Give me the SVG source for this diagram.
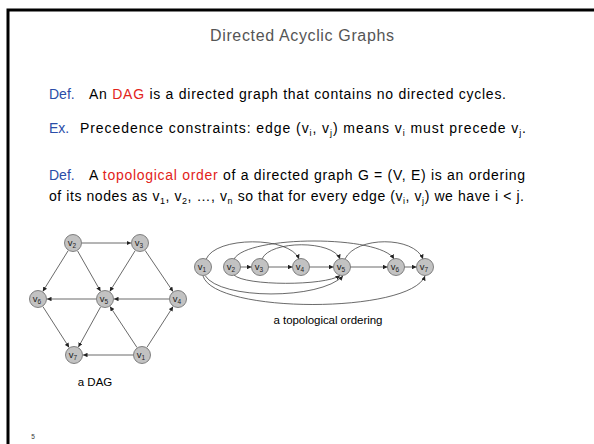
<svg xmlns="http://www.w3.org/2000/svg" width="594" height="444" viewBox="0 0 594 444">
<defs>
<marker id="ah" viewBox="0 0 6 6" refX="6" refY="3" markerWidth="4.5" markerHeight="4.5" orient="auto" markerUnits="userSpaceOnUse"><path d="M0,0L6,3L0,6z" fill="#222"/></marker>
<style>
.t{font-family:"Liberation Sans",Arial,sans-serif;fill:#000}
.blue{fill:#2a4da8}
.red{fill:#e2231a}
.e{stroke:#444;stroke-width:0.8;fill:none;marker-end:url(#ah)}
.n circle{fill:#c2c2c2;stroke:#666;stroke-width:0.8}
.n text{font-family:"Liberation Sans",Arial,sans-serif;font-size:9.5px;fill:#222;text-anchor:middle}
</style>
</defs>
<rect width="594" height="444" fill="#fff"/>
<path d="M8,444V10H594" fill="none" stroke="#000" stroke-width="3"/>
<text class="t" x="302" y="41" font-size="16" text-anchor="middle" style="fill:#555" textLength="184" lengthAdjust="spacing">Directed Acyclic Graphs</text>
<g id="text-lines" font-size="14">
<text class="t blue" x="49" y="98.5" font-size="14">Def.</text>
<text class="t" x="89" y="98.5" font-size="14" textLength="417" lengthAdjust="spacing">An <tspan class="red">DAG</tspan> is a directed graph that contains no directed cycles.</text>
<text class="t blue" x="49" y="133" font-size="14">Ex.</text>
<text class="t" x="80" y="133" font-size="14" textLength="446" lengthAdjust="spacing">Precedence constraints:  edge (v<tspan font-size="9" dy="3">i</tspan><tspan dy="-3">, v</tspan><tspan font-size="9" dy="3">j</tspan><tspan dy="-3">) means v</tspan><tspan font-size="9" dy="3">i</tspan><tspan dy="-3"> must precede v</tspan><tspan font-size="9" dy="3">j</tspan><tspan dy="-3">.</tspan></text>
<text class="t blue" x="49" y="180" font-size="14">Def.</text>
<text class="t" x="89" y="180" font-size="14" textLength="436" lengthAdjust="spacing">A <tspan class="red">topological order</tspan> of a directed graph G = (V, E) is an ordering</text>
<text class="t" x="49" y="201" font-size="14" textLength="475" lengthAdjust="spacing">of its nodes as v<tspan font-size="9" dy="3">1</tspan><tspan dy="-3">, v</tspan><tspan font-size="9" dy="3">2</tspan><tspan dy="-3">, …, v</tspan><tspan font-size="9" dy="3">n</tspan><tspan dy="-3"> so that for every edge (v</tspan><tspan font-size="9" dy="3">i</tspan><tspan dy="-3">, v</tspan><tspan font-size="9" dy="3">j</tspan><tspan dy="-3">) we have i &lt; j.</tspan></text>
</g>
<g id="connectors">
<line class="e" x1="82" y1="243" x2="131" y2="243"/>
<line class="e" x1="68.2" y1="250.6" x2="42.8" y2="291.4"/>
<line class="e" x1="77.5" y1="250.8" x2="100.5" y2="291.2"/>
<line class="e" x1="135.2" y1="250.6" x2="109.8" y2="291.4"/>
<line class="e" x1="145.1" y1="250.4" x2="173" y2="291.6"/>
<line class="e" x1="169" y1="299" x2="114" y2="299"/>
<line class="e" x1="96" y1="299" x2="47" y2="299"/>
<line class="e" x1="42.9" y1="306.6" x2="69.1" y2="347.4"/>
<line class="e" x1="100.6" y1="306.9" x2="78.4" y2="347.1"/>
<line class="e" x1="133" y1="355" x2="83" y2="355"/>
<line class="e" x1="137" y1="347.5" x2="110" y2="306.5"/>
<line class="e" x1="146.9" y1="347.4" x2="173.1" y2="306.6"/>
<line class="e" x1="240.5" y1="267" x2="251.5" y2="267"/>
<line class="e" x1="268.5" y1="267" x2="292.5" y2="267"/>
<line class="e" x1="309.5" y1="267" x2="333.5" y2="267"/>
<line class="e" x1="350.5" y1="267" x2="387.5" y2="267"/>
<line class="e" x1="404.5" y1="267" x2="416.5" y2="267"/>
<path class="e" d="M206,259.5C215,236 290,236 299,259"/>
<path class="e" d="M234,259C248,235 380,235 394,259"/>
<path class="e" d="M262,259C270,240 333,240 340,259"/>
<path class="e" d="M345,259C356,236 414,236 423,259"/>
<path class="e" d="M234,275C245,286 325,286 340,275.5"/>
<path class="e" d="M205,275.5C220,300 320,300 343,276"/>
<path class="e" d="M203,276C215,314 410,314 425,276"/>
</g>
<g id="a-v2" class="n"><circle cx="73" cy="243" r="8.5"/><text x="72" y="246">v<tspan font-size="6.5" dy="1.5">2</tspan></text></g>
<g id="a-v3" class="n"><circle cx="140" cy="243" r="8.5"/><text x="139" y="246">v<tspan font-size="6.5" dy="1.5">3</tspan></text></g>
<g id="a-v6" class="n"><circle cx="38" cy="299" r="8.5"/><text x="37" y="302">v<tspan font-size="6.5" dy="1.5">6</tspan></text></g>
<g id="a-v5" class="n"><circle cx="105" cy="299" r="8.5"/><text x="104" y="302">v<tspan font-size="6.5" dy="1.5">5</tspan></text></g>
<g id="a-v4" class="n"><circle cx="178" cy="299" r="8.5"/><text x="177" y="302">v<tspan font-size="6.5" dy="1.5">4</tspan></text></g>
<g id="a-v7" class="n"><circle cx="74" cy="355" r="8.5"/><text x="73" y="358">v<tspan font-size="6.5" dy="1.5">7</tspan></text></g>
<g id="a-v1" class="n"><circle cx="142" cy="355" r="8.5"/><text x="141" y="358">v<tspan font-size="6.5" dy="1.5">1</tspan></text></g>
<g id="b-v1" class="n"><circle cx="203" cy="267" r="8.5"/><text x="202" y="270">v<tspan font-size="6.5" dy="1.5">1</tspan></text></g>
<g id="b-v2" class="n"><circle cx="232" cy="267" r="8.5"/><text x="231" y="270">v<tspan font-size="6.5" dy="1.5">2</tspan></text></g>
<g id="b-v3" class="n"><circle cx="260" cy="267" r="8.5"/><text x="259" y="270">v<tspan font-size="6.5" dy="1.5">3</tspan></text></g>
<g id="b-v4" class="n"><circle cx="301" cy="267" r="8.5"/><text x="300" y="270">v<tspan font-size="6.5" dy="1.5">4</tspan></text></g>
<g id="b-v5" class="n"><circle cx="342" cy="267" r="8.5"/><text x="341" y="270">v<tspan font-size="6.5" dy="1.5">5</tspan></text></g>
<g id="b-v6" class="n"><circle cx="396" cy="267" r="8.5"/><text x="395" y="270">v<tspan font-size="6.5" dy="1.5">6</tspan></text></g>
<g id="b-v7" class="n"><circle cx="425" cy="267" r="8.5"/><text x="424" y="270">v<tspan font-size="6.5" dy="1.5">7</tspan></text></g>
<text class="t" x="95" y="386" font-size="11.5" text-anchor="middle">a DAG</text>
<text class="t" x="328" y="324" font-size="11.5" text-anchor="middle" textLength="109" lengthAdjust="spacing">a topological ordering</text>
<text class="t" x="33" y="439" font-size="6.5" text-anchor="middle" style="fill:#333">5</text>
</svg>
